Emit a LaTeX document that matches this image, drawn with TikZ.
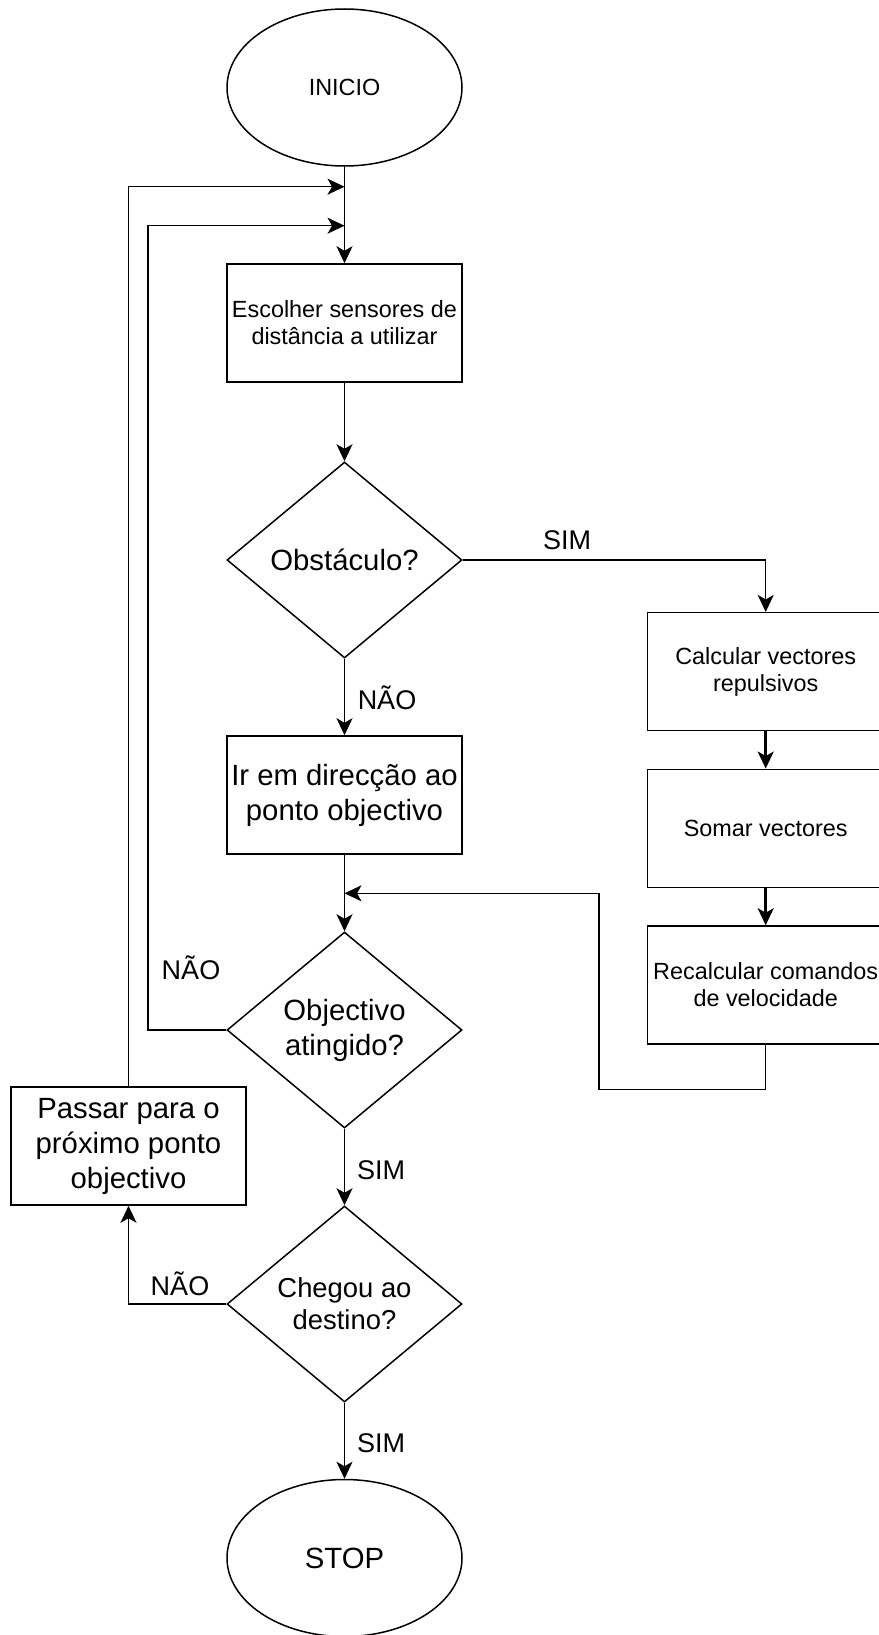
\documentclass[tikz,border=0pt]{standalone}
\usepackage{fontspec}
\setmainfont{Liberation Sans}
\usetikzlibrary{shapes.geometric,arrows.meta}
\tikzset{
  base/.style={draw=black, line width=1.5pt, align=center, inner sep=0pt},
  terminal/.style={base, ellipse, minimum width=235pt, minimum height=157pt},
  stepbox/.style={base, rectangle, minimum width=235pt, minimum height=118pt},
  decision/.style={base, diamond, aspect=1.2, minimum width=235pt, minimum height=196pt},
  small/.style={font=\fontsize{23.4}{27}\selectfont},
  large/.style={font=\fontsize{29.3}{35}\selectfont},
  medium/.style={font=\fontsize{27.4}{32}\selectfont},
  lbl/.style={font=\fontsize{27}{32}\selectfont, inner sep=0pt},
  arr/.style={line width=1.5pt, -{Stealth[length=17pt, width=16pt, inset=4.5pt]}},
  thickarr/.style={line width=2.6pt, -{Stealth[length=17pt, width=16pt, inset=4.5pt]}},
  link/.style={line width=1.5pt}
}
\begin{document}
\begin{tikzpicture}[x=1pt, y=-1pt]
\useasboundingbox (0,0) rectangle (878,1635);

% main column
\node[terminal, small] (inicio) at (344.5,87.5) {INICIO};
\node[stepbox, small] (escolher) at (344.5,323) {Escolher sensores de\\distância a utilizar};
\node[decision, large] (obst) at (344.5,560) {Obstáculo?};
\node[stepbox, large] (ir) at (344.5,795) {Ir em direcção ao\\ponto objectivo};
\node[decision, large] (obj) at (344.5,1030) {Objectivo\\atingido?};
\node[decision, medium] (chegou) at (344.5,1304) {Chegou ao\\destino?};
\node[terminal, large] (stop) at (344.5,1558) {STOP};

% obstacle avoidance branch
\node[stepbox, small, minimum width=236pt] (calc) at (765.7,671.7) {Calcular vectores\\repulsivos};
\node[stepbox, small, minimum width=236pt] (somar) at (765.7,828.3) {Somar vectores};
\node[stepbox, small, minimum width=236pt] (recalc) at (765.7,985) {Recalcular comandos\\de velocidade};

% next waypoint
\node[stepbox, large] (passar) at (128.5,1146) {Passar para o\\próximo ponto\\objectivo};

% junction points on the main column
\coordinate (j1) at (344.5,186.7);
\coordinate (j2) at (344.5,225.7);
\coordinate (j3) at (344.5,893.3);
\coordinate (k1) at (599,1089.3);
\coordinate (k2) at (148,1030);

% connectors
\draw[arr] (inicio.south) -- (escolher.north);
\draw[arr] (passar.north) |- (j1);
\draw[arr] (obj.west) -- (k2) |- (j2);
\draw[arr] (escolher.south) -- (obst.north);
\draw[arr] (obst.east) -| (calc.north);
\draw[arr] (obst.south) -- (ir.north);
\draw[arr] (ir.south) -- (obj.north);
\draw[thickarr] (calc.south) -- (somar.north);
\draw[thickarr] (somar.south) -- (recalc.north);
\draw[arr] (recalc.south) |- (k1) |- (j3);
\draw[arr] (obj.south) -- (chegou.north);
\draw[arr] (chegou.west) -| (passar.south);
\draw[arr] (chegou.south) -- (stop.north);

% branch labels
\node[lbl] (simA) at (567,540) {SIM};
\node[lbl] (naoA) at (387,698) {NÃO};
\node[lbl] (naoB) at (191,968) {NÃO};
\node[lbl] (simB) at (381,1170) {SIM};
\node[lbl] (naoC) at (180,1284) {NÃO};
\node[lbl] (simC) at (381,1443) {SIM};
\end{tikzpicture}
\end{document}
